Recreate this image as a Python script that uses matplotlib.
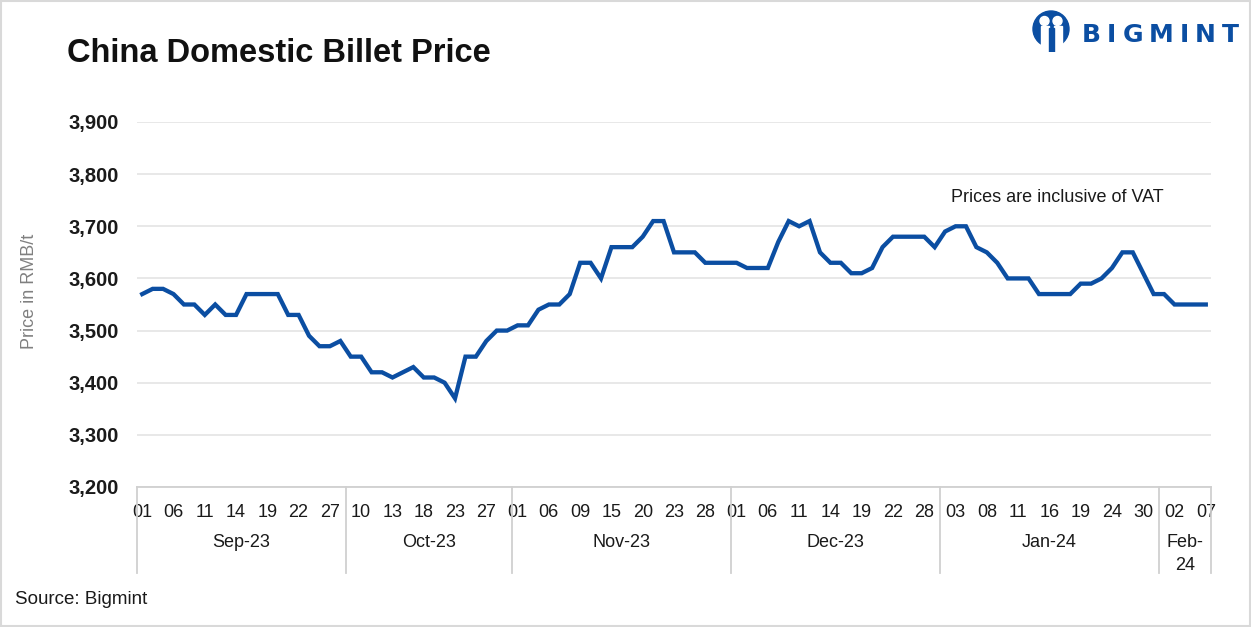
import numpy as np
import matplotlib
matplotlib.use("Agg")
import matplotlib.pyplot as plt
from matplotlib.patches import Rectangle, Ellipse, Circle
import matplotlib.transforms as mtransforms

plt.rcParams["font.family"] = ["Liberation Sans", "DejaVu Sans"]

# ==========================
# data
# ==========================
months = ["Sep-23", "Oct-23", "Nov-23", "Dec-23", "Jan-24", "Feb-\n24"]
month_days = [
    [1, 4, 5, 6, 7, 8, 11, 12, 13, 14, 15, 18, 19, 20, 21, 22, 25, 26, 27, 28],
    [9, 10, 11, 12, 13, 16, 17, 18, 19, 20, 23, 24, 26, 27, 30, 31],
    [1, 2, 3, 6, 7, 8, 9, 10, 14, 15, 16, 17, 20, 21, 22, 23, 24, 27, 28, 29, 30],
    [1, 4, 5, 6, 7, 8, 11, 12, 13, 14, 15, 18, 19, 20, 21, 22, 26, 27, 28, 29],
    [2, 3, 4, 5, 8, 9, 10, 11, 12, 15, 16, 17, 18, 19, 22, 23, 24, 25, 26, 30, 31],
    [1, 2, 5, 6, 7],
]

price = [
    # Sep
    3570, 3580, 3580, 3570, 3550, 3550, 3530, 3550, 3530, 3530,
    3570, 3570, 3570, 3570, 3530, 3530, 3490, 3470, 3470, 3480,
    # Oct
    3450, 3450, 3420, 3420, 3410, 3420, 3430, 3410, 3410, 3400,
    3370, 3450, 3450, 3480, 3500, 3500,
    # Nov
    3510, 3510, 3540, 3550, 3550, 3570, 3630, 3630, 3600, 3660,
    3660, 3660, 3680, 3710, 3710, 3650, 3650, 3650, 3630, 3630, 3630,
    # Dec
    3630, 3620, 3620, 3620, 3670, 3710, 3700, 3710, 3650, 3630,
    3630, 3610, 3610, 3620, 3660, 3680, 3680, 3680, 3680, 3660,
    # Jan
    3690, 3700, 3700, 3660, 3650, 3630, 3600, 3600, 3600, 3570,
    3570, 3570, 3570, 3590, 3590, 3600, 3620, 3650, 3650, 3610, 3570,
    # Feb
    3570, 3550, 3550, 3550, 3550,
]

day_labels = [f"{d:02d}" for m in month_days for d in m]
counts = [len(m) for m in month_days]

W, H = 1251, 627
BLUE = "#0b4ea2"
fig = plt.figure(figsize=(W / 100, H / 100), dpi=100)

# border
fig.patches.append(Rectangle((0.001, 0.001), 0.998, 0.997, transform=fig.transFigure,
                             fill=False, edgecolor="#d9d9d9", linewidth=1.5))

ax = fig.add_axes([137 / W, 1 - 487 / H, (1211 - 137) / W, (487 - 122) / H])

x = np.arange(len(price))
ax.plot(x, price, color=BLUE, linewidth=3.1, solid_joinstyle="miter", zorder=3)

ax.set_xlim(-0.5, len(price) - 0.5)
ax.set_ylim(3200, 3900)
ax.set_yticks(range(3200, 3901, 100))
ax.set_yticklabels([f"{v:,}" for v in range(3200, 3901, 100)],
                   fontsize=14.5, fontweight="bold", color="#1a1a1a")
ax.yaxis.grid(True, color="#e6e6e6", linewidth=1.3)
ax.set_axisbelow(True)
for s in ["top", "right", "left"]:
    ax.spines[s].set_visible(False)
ax.spines["bottom"].set_color("#d0d0d0")
ax.spines["bottom"].set_linewidth(1.3)
ax.tick_params(axis="y", length=0, pad=13)

tick_pos = list(range(0, len(price), 3))
ax.set_xticks(tick_pos)
ax.set_xticklabels([day_labels[i] for i in tick_pos], fontsize=13, color="#1a1a1a")
ax.tick_params(axis="x", length=0, pad=12)

fig.text(30 / W, 1 - 291 / H, "Price in RMB/t", rotation=90, fontsize=13, color="#808080",
         ha="center", va="center")

# month level of the category axis
trans = mtransforms.blended_transform_factory(ax.transData, ax.transAxes)
bounds = np.concatenate([[0], np.cumsum(counts)]) - 0.5
low = (487 - 573) / (487 - 122)
for b in bounds:
    ax.plot([b, b], [0, low], color="#d0d0d0", linewidth=1.3, transform=trans, clip_on=False)
for i, m in enumerate(months):
    mid = (bounds[i] + bounds[i + 1]) / 2
    ax.text(mid, (487 - 534) / (487 - 122), m, transform=trans, ha="center", va="top",
            fontsize=13, color="#1a1a1a", linespacing=1.5)

fig.text(1057 / W, 1 - 197 / H, "Prices are inclusive of VAT", fontsize=13,
         color="#1a1a1a", ha="center", va="center")

# title and source
fig.text(67 / W, 1 - 53 / H, "China Domestic Billet Price", fontsize=23.5, fontweight="bold",
         color="#111111", ha="left", va="center")
fig.text(15 / W, 1 - 600 / H, "Source: Bigmint", fontsize=13.5, color="#1a1a1a",
         ha="left", va="center")

# logo
logo = fig.add_axes([1031 / W, 1 - 52 / H, 40 / W, 42 / H])
logo.set_xlim(0, 40)
logo.set_ylim(0, 42)
logo.axis("off")
logo.add_patch(Ellipse((20, 23), 36, 36, color=BLUE))
logo.add_patch(Circle((13.5, 31), 4.5, color="white"))
logo.add_patch(Circle((26.5, 31), 4.5, color="white"))
logo.add_patch(Rectangle((9.5, 5), 8, 21, color="white"))
logo.add_patch(Rectangle((22.5, 5), 8, 21, color="white"))
logo.add_patch(Rectangle((17.5, 0), 5, 24, color=BLUE))

renderer = fig.canvas.get_renderer()
lx = 1082
for ch in "BIGMINT":
    t = fig.text(lx / W, 1 - 35 / H, ch, fontsize=18, fontweight="bold", color=BLUE,
                 ha="left", va="center", family="DejaVu Sans")
    lx += t.get_window_extent(renderer).width + 6.0

fig.savefig("out.png", dpi=100)
